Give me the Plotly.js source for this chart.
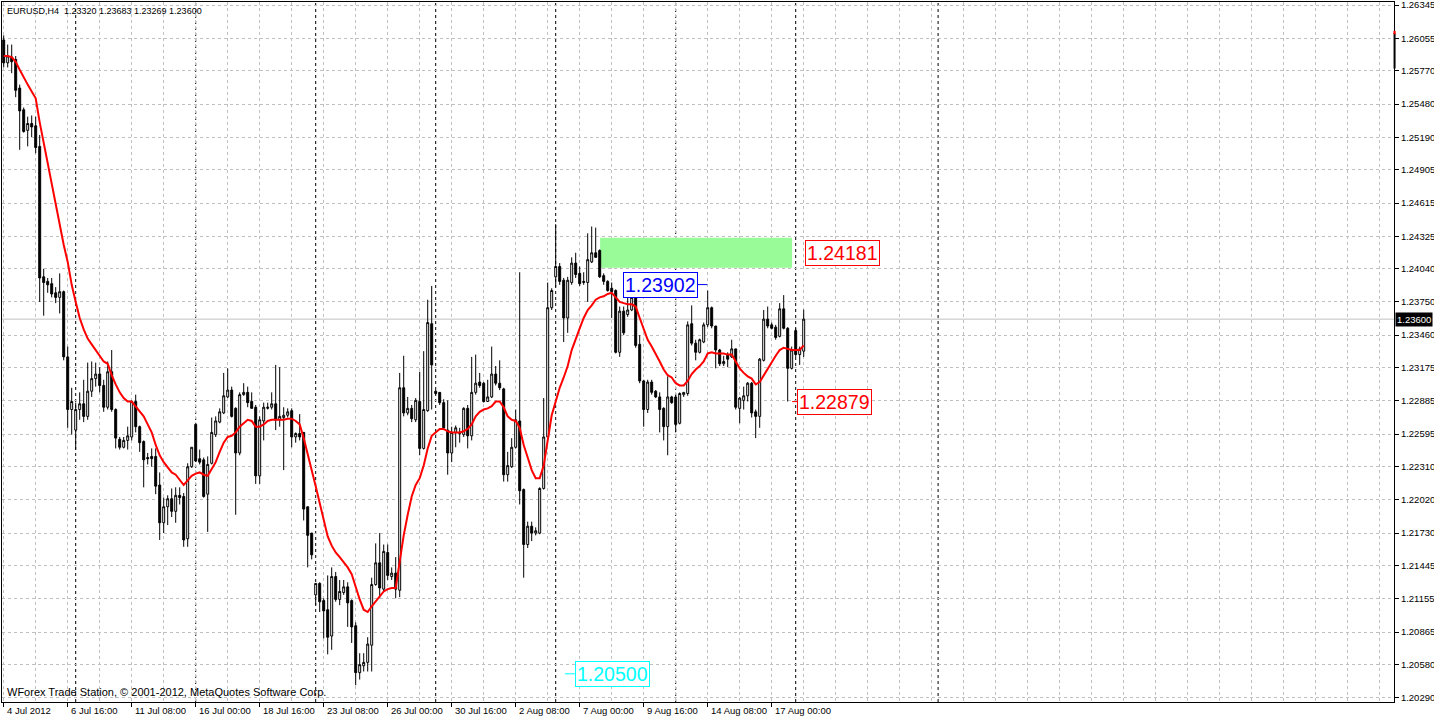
<!DOCTYPE html>
<html><head><meta charset="utf-8">
<script src="https://cdn.plot.ly/plotly-3.0.1.min.js"></script>
<style>html,body{margin:0;padding:0;background:#fff;overflow:hidden}#chart{width:1434px;height:718px}</style>
</head><body><div id="chart"></div>
<script>
// EURUSD H4 bars, 4 Jul 2012 00:00 .. 20 Aug 2012 08:00 (bar index = position)
const openP = [
1.2604,1.2584,1.2589,1.2587,1.2562,1.2543,1.2525,1.2531,1.2529,1.2511,
1.2397,1.2393,1.2391,1.2383,1.2379,1.2384,1.2327,1.2281,1.2263,1.2281,
1.2286,1.2275,1.2297,1.2308,1.2312,1.2302,1.2283,1.2314,1.2281,1.2255,
1.2248,1.2254,1.2257,1.2288,1.2266,1.2253,1.2239,1.2240,1.2240,1.2215,
1.2182,1.2196,1.2203,1.2192,1.2206,1.2205,1.2168,1.2231,1.2268,1.2238,
1.2237,1.2207,1.2234,1.2259,1.2270,1.2278,1.2292,1.2298,1.2282,1.2243,
1.2294,1.2296,1.2288,1.2283,1.2223,1.2271,1.2282,1.2283,1.2286,1.2272,
1.2274,1.2276,1.2280,1.2257,1.2260,1.2261,1.2196,1.2173,1.2119,1.2129,
1.2114,1.2106,1.2083,1.2135,1.2115,1.2121,1.2126,1.2114,1.2092,1.2051,
1.2057,1.2060,1.2075,1.2128,1.2147,1.2124,1.2156,1.2135,1.2138,1.2123,
1.2300,1.2278,1.2282,1.2272,1.2288,1.2247,1.2280,1.2356,1.2297,1.2296,
1.2287,1.2263,1.2243,1.2261,1.2260,1.2259,1.2282,1.2258,1.2296,1.2305,
1.2304,1.2288,1.2292,1.2312,1.2304,1.2299,1.2224,1.2231,1.2248,1.2271,
1.2211,1.2163,1.2179,1.2173,1.2173,1.2212,1.2257,1.2370,1.2397,1.2406,
1.2394,1.2361,1.2392,1.2409,1.2400,1.2392,1.2392,1.2410,1.2418,1.2420,
1.2398,1.2393,1.2387,1.2385,1.2331,1.2367,1.2364,1.2368,1.2379,1.2338,
1.2306,1.2281,1.2305,1.2297,1.2292,1.2282,1.2266,1.2292,1.2292,1.2269,
1.2294,1.2295,1.2356,1.2339,1.2331,1.2340,1.2355,1.2370,1.2354,1.2333,
1.2321,1.2329,1.2327,1.2334,1.2282,1.2289,1.2293,1.2304,1.2279,1.2275,
1.2324,1.2360,1.2355,1.2353,1.2345,1.2369,1.2352,1.2317,1.2350,1.2329,
1.23320];
const highP = [
1.2608,1.2600,1.2600,1.2590,1.2565,1.2545,1.2537,1.2538,1.2537,1.2521,
1.2404,1.2396,1.2396,1.2388,1.2400,1.2385,1.2336,1.2300,1.2287,1.2296,
1.2307,1.2322,1.2323,1.2322,1.2318,1.2307,1.2323,1.2333,1.2282,1.2257,
1.2257,1.2266,1.2289,1.2294,1.2267,1.2254,1.2243,1.2247,1.2247,1.2226,
1.2204,1.2206,1.2212,1.2213,1.2213,1.2208,1.2234,1.2248,1.2269,1.2246,
1.2239,1.2240,1.2274,1.2275,1.2282,1.2313,1.2317,1.2301,1.2283,1.2296,
1.2304,1.2301,1.2296,1.2285,1.2275,1.2287,1.2287,1.2296,1.2320,1.2318,
1.2283,1.2282,1.2282,1.2261,1.2277,1.2261,1.2196,1.2173,1.2129,1.2130,
1.2116,1.2136,1.2143,1.2139,1.2132,1.2132,1.2130,1.2115,1.2095,1.2068,
1.2068,1.2082,1.2134,1.2164,1.2173,1.2163,1.2163,1.2143,1.2152,1.2313,
1.2328,1.2292,1.2285,1.2291,1.2314,1.2332,1.2377,1.2389,1.2298,1.2296,
1.2290,1.2289,1.2266,1.2267,1.2265,1.2283,1.2285,1.2327,1.2329,1.2313,
1.2305,1.2307,1.2336,1.2319,1.2324,1.2300,1.2244,1.2256,1.2281,1.2401,
1.2212,1.2183,1.2183,1.2178,1.2213,1.2291,1.2392,1.2387,1.2443,1.2409,
1.2396,1.2397,1.2414,1.2418,1.2406,1.2401,1.2435,1.2441,1.2440,1.2421,
1.2400,1.2394,1.2392,1.2386,1.2371,1.2371,1.2384,1.2386,1.2381,1.2346,
1.2307,1.2307,1.2307,1.2298,1.2296,1.2283,1.2310,1.2293,1.2294,1.2296,
1.2296,1.2358,1.2372,1.2342,1.2343,1.2357,1.2385,1.2371,1.2354,1.2334,
1.2328,1.2331,1.2342,1.2334,1.2292,1.2301,1.2305,1.2305,1.2281,1.2326,
1.2368,1.2371,1.2357,1.2355,1.2374,1.2381,1.2353,1.2336,1.2352,1.2336,
1.23683];
const lowP = [
1.2580,1.2580,1.2575,1.2554,1.2508,1.2523,1.2511,1.2519,1.2505,1.2375,
1.2363,1.2383,1.2379,1.2374,1.2365,1.2324,1.2265,1.2259,1.2246,1.2272,
1.2270,1.2272,1.2292,1.2301,1.2296,1.2279,1.2281,1.2279,1.2247,1.2246,
1.2247,1.2246,1.2254,1.2261,1.2244,1.2213,1.2233,1.2231,1.2207,1.2167,
1.2173,1.2180,1.2187,1.2182,1.2198,1.2161,1.2161,1.2230,1.2235,1.2233,
1.2204,1.2174,1.2233,1.2257,1.2269,1.2277,1.2291,1.2274,1.2189,1.2241,
1.2293,1.2283,1.2282,1.2216,1.2216,1.2254,1.2281,1.2281,1.2263,1.2266,
1.2228,1.2274,1.2248,1.2252,1.2254,1.2184,1.2143,1.2150,1.2110,1.2104,
1.2081,1.2067,1.2071,1.2113,1.2110,1.2119,1.2091,1.2077,1.2040,1.2045,
1.2052,1.2052,1.2052,1.2127,1.2116,1.2122,1.2132,1.2132,1.2116,1.2117,
1.2275,1.2276,1.2270,1.2270,1.2241,1.2246,1.2279,1.2281,1.2294,1.2285,
1.2263,1.2224,1.2235,1.2248,1.2252,1.2257,1.2247,1.2254,1.2294,1.2300,
1.2287,1.2288,1.2291,1.2302,1.2298,1.2218,1.2218,1.2230,1.2247,1.2198,
1.2134,1.2160,1.2166,1.2171,1.2172,1.2211,1.2257,1.2368,1.2388,1.2390,
1.2340,1.2348,1.2390,1.2396,1.2389,1.2390,1.2375,1.2409,1.2414,1.2396,
1.2390,1.2384,1.2361,1.2330,1.2327,1.2346,1.2362,1.2367,1.2335,1.2304,
1.2266,1.2278,1.2294,1.2291,1.2261,1.2254,1.2241,1.2286,1.2261,1.2268,
1.2292,1.2293,1.2337,1.2324,1.2330,1.2339,1.2353,1.2352,1.2317,1.2319,
1.2319,1.2318,1.2326,1.2281,1.2269,1.2281,1.2288,1.2274,1.2256,1.2265,
1.2323,1.2352,1.2351,1.2342,1.2344,1.2351,1.2288,1.2316,1.2327,1.2320,
1.23269];
const closeP = [
1.2584,1.2590,1.2585,1.2560,1.2542,1.2524,1.2531,1.2528,1.2510,1.2396,
1.2392,1.2390,1.2382,1.2379,1.2384,1.2327,1.2281,1.2288,1.2281,1.2286,
1.2275,1.2297,1.2308,1.2312,1.2302,1.2283,1.2314,1.2281,1.2256,1.2248,
1.2254,1.2258,1.2288,1.2266,1.2252,1.2237,1.2238,1.2238,1.2214,1.2182,
1.2196,1.2203,1.2192,1.2206,1.2204,1.2167,1.2231,1.2248,1.2236,1.2235,
1.2205,1.2233,1.2261,1.2271,1.2279,1.2293,1.2298,1.2275,1.2243,1.2294,
1.2296,1.2287,1.2282,1.2223,1.2272,1.2283,1.2283,1.2286,1.2272,1.2275,
1.2276,1.2279,1.2257,1.2260,1.2257,1.2194,1.2171,1.2154,1.2129,1.2113,
1.2105,1.2082,1.2135,1.2115,1.2122,1.2126,1.2112,1.2091,1.2051,1.2058,
1.2060,1.2076,1.2128,1.2147,1.2125,1.2157,1.2136,1.2138,1.2124,1.2300,
1.2278,1.2282,1.2273,1.2289,1.2247,1.2281,1.2357,1.2320,1.2295,1.2287,
1.2265,1.2243,1.2261,1.2265,1.2261,1.2282,1.2258,1.2296,1.2304,1.2302,
1.2288,1.2292,1.2312,1.2304,1.2300,1.2224,1.2232,1.2248,1.2272,1.2210,
1.2163,1.2179,1.2173,1.2175,1.2212,1.2257,1.2370,1.2385,1.2406,1.2393,
1.2361,1.2394,1.2409,1.2399,1.2391,1.2393,1.2412,1.2418,1.2414,1.2397,
1.2393,1.2385,1.2384,1.2331,1.2367,1.2348,1.2368,1.2379,1.2337,1.2306,
1.2281,1.2305,1.2296,1.2292,1.2281,1.2266,1.2292,1.2287,1.2268,1.2295,
1.2296,1.2355,1.2339,1.2331,1.2342,1.2355,1.2370,1.2354,1.2333,1.2321,
1.2323,1.2325,1.2334,1.2283,1.2291,1.2293,1.2304,1.2278,1.2275,1.2325,
1.2360,1.2354,1.2352,1.2344,1.2369,1.2352,1.2317,1.2333,1.2329,1.2334,
1.23600];
// red moving average, one value per bar
const maP = [
1.2590,1.2590,1.2589,1.2585,1.2578,1.2571,1.2565,1.2559,1.2553,1.2532,
1.2514,1.2497,1.2477,1.2461,1.2443,1.2425,1.2410,1.2390,1.2375,1.2361,
1.2351,1.2343,1.2338,1.2333,1.2327,1.2323,1.2321,1.2311,1.2303,1.2296,
1.2291,1.2288,1.2288,1.2284,1.2280,1.2275,1.2268,1.2261,1.2250,1.2241,
1.2235,1.2230,1.2226,1.2224,1.2219,1.2215,1.2219,1.2223,1.2225,1.2226,
1.2224,1.2223,1.2229,1.2235,1.2244,1.2252,1.2257,1.2258,1.2261,1.2266,
1.2269,1.2272,1.2271,1.2266,1.2266,1.2268,1.2271,1.2272,1.2272,1.2272,
1.2272,1.2273,1.2273,1.2271,1.2268,1.2256,1.2241,1.2228,1.2214,1.2199,
1.2183,1.2170,1.2162,1.2156,1.2152,1.2148,1.2143,1.2137,1.2125,1.2115,
1.2106,1.2104,1.2109,1.2113,1.2117,1.2122,1.2124,1.2125,1.2125,1.2150,
1.2171,1.2189,1.2205,1.2215,1.2221,1.2232,1.2247,1.2258,1.2261,1.2264,
1.2264,1.2262,1.2261,1.2261,1.2261,1.2262,1.2264,1.2268,1.2275,1.2279,
1.2281,1.2282,1.2284,1.2288,1.2288,1.2283,1.2275,1.2272,1.2271,1.2265,
1.2250,1.2239,1.2228,1.2221,1.2221,1.2232,1.2254,1.2276,1.2288,1.2300,
1.2309,1.2319,1.2333,1.2343,1.2352,1.2361,1.2368,1.2372,1.2377,1.2379,
1.2380,1.2382,1.2383,1.2379,1.2375,1.2374,1.2373,1.2373,1.2371,1.2361,
1.2351,1.2342,1.2336,1.2330,1.2323,1.2316,1.2311,1.2309,1.2304,1.2302,
1.2302,1.2306,1.2312,1.2316,1.2319,1.2323,1.2330,1.2331,1.2330,1.2330,
1.2330,1.2329,1.2329,1.2323,1.2317,1.2313,1.2310,1.2308,1.2303,1.2305,
1.2311,1.2317,1.2323,1.2328,1.2333,1.2335,1.2334,1.2333,1.2333,1.2333,
1.2337];
const xTickBars = [0,16,32,48,64,80,96,112,128,144,160,176,192];
const xTickLabels = ['4 Jul 2012','6 Jul 16:00','11 Jul 08:00','16 Jul 00:00','18 Jul 16:00','23 Jul 08:00','26 Jul 00:00','30 Jul 16:00','2 Aug 08:00','7 Aug 00:00','9 Aug 16:00','14 Aug 08:00','17 Aug 00:00'];
const yTickVals = [1.26345,1.26055,1.25770,1.25480,1.25190,1.24905,1.24615,1.24325,1.24040,1.23750,1.23460,1.23175,1.22885,1.22595,1.22310,1.22020,1.21730,1.21445,1.21155,1.20865,1.20580,1.20290];
const separatorBars = [18,48,78,108,138,168,198,233.6];
const zoneCenter = 1.24181, zoneHalf = 0.00131;
const levelBlue = 1.23902, levelRed = 1.22879, levelCyan = 1.20500, bidPrice = 1.23600;

const F = 'Liberation Sans, Arial, sans-serif';
const traces = [
  {type:'candlestick', open:openP, high:highP, low:lowP, close:closeP,
   increasing:{line:{color:'#000',width:1}, fillcolor:'#ffffff'},
   decreasing:{line:{color:'#000',width:1}, fillcolor:'#000000'},
   whiskerwidth:0, hoverinfo:'skip', showlegend:false},
  {type:'scatter', mode:'lines', y:maP, line:{color:'#ff0000', width:2}, hoverinfo:'skip', showlegend:false}
];
const shapes = [];
separatorBars.forEach(b => shapes.push({type:'line', xref:'x', yref:'paper', x0:b, x1:b, y0:0, y1:1, layer:'between', line:{color:'#000', width:1, dash:'3px,3px'}}));
shapes.push({type:'line', xref:'paper', yref:'y', x0:0, x1:1, y0:bidPrice, y1:bidPrice, layer:'between', line:{color:'#c0c0c0', width:1}});
shapes.push({type:'rect', xref:'x', yref:'y', x0:149.1, x1:197.1, y0:zoneCenter-zoneHalf, y1:zoneCenter+zoneHalf, layer:'between', fillcolor:'#98fb98', line:{width:0}});
shapes.push({type:'line', xref:'x', yref:'y', x0:173.4, x1:175.9, y0:levelBlue, y1:levelBlue, line:{color:'#0000ff', width:1}});
shapes.push({type:'line', xref:'x', yref:'y', x0:197.1, x1:198.4, y0:levelRed, y1:levelRed, line:{color:'#ff0000', width:1}});
shapes.push({type:'line', xref:'x', yref:'y', x0:140.3, x1:142.8, y0:levelCyan, y1:levelCyan, line:{color:'#00ffff', width:1}});
shapes.push({type:'line', xref:'paper', yref:'y', x0:1.0004, x1:1.0004, y0:1.2579, y1:1.2610, line:{color:'#000', width:2}});
shapes.push({type:'rect', xref:'paper', yref:'y', x0:0.9996, x1:1.0012, y0:1.2609, y1:1.2612, fillcolor:'#ff0000', line:{width:0}});

function priceLabel(x, y, txt, col){
  return {xref:'x', yref:'y', x:x, y:y, xanchor:'left', yanchor:'middle', text:txt, showarrow:false,
    font:{family:F, size:19.5, color:col}, bgcolor:'#ffffff', bordercolor:col, borderwidth:1, borderpad:1};
}
const annotations = [
  {xref:'paper', yref:'paper', x:0, y:1, xanchor:'left', yanchor:'top', xshift:3, yshift:-2, showarrow:false,
   text:'EURUSD,H4\u00a0 1.23320 1.23683 1.23269 1.23600', font:{family:F, size:9, color:'#000'}},
  {xref:'paper', yref:'paper', x:0, y:0, xanchor:'left', yanchor:'bottom', xshift:3, yshift:2, showarrow:false,
   text:'WForex Trade Station, \u00a9 2001-2012, MetaQuotes Software Corp.', font:{family:F, size:11, color:'#000'}},
  priceLabel(200.2, zoneCenter, zoneCenter.toFixed(5), '#ff0000'),
  priceLabel(154.8, levelBlue, levelBlue.toFixed(5), '#0000ff'),
  priceLabel(198.4, levelRed, levelRed.toFixed(5), '#ff0000'),
  priceLabel(142.8, levelCyan, levelCyan.toFixed(5), '#00ffff'),
  {xref:'paper', yref:'y', x:1, y:bidPrice, xanchor:'left', yanchor:'middle', xshift:1, showarrow:false,
   text:bidPrice.toFixed(5), font:{family:F, size:9.5, color:'#ffffff'}, bgcolor:'#000000', borderpad:1}
];
xTickBars.forEach((b, k) => annotations.push({xref:'x', yref:'paper', x:b, y:0, xanchor:'left', yanchor:'top',
  xshift:1, yshift:-1, showarrow:false, text:xTickLabels[k], font:{family:F, size:9.5, color:'#000'}}));

const layout = {
  width:1434, height:718, margin:{l:2, r:40, t:2, b:16, pad:0},
  paper_bgcolor:'#ffffff', plot_bgcolor:'#ffffff', showlegend:false,
  font:{family:F, size:9.5, color:'#000'},
  xaxis:{range:[-0.425, 347.575], tickmode:'array', tickvals:xTickBars, showticklabels:false,
    ticks:'outside', ticklen:4, tickcolor:'#000',
    showgrid:true, gridcolor:'#c0c0c0', griddash:'dot', gridwidth:1,
    minor:{tickmode:'linear', tick0:0, dtick:8, showgrid:true, gridcolor:'#c0c0c0', griddash:'dot', ticks:''},
    showline:true, mirror:true, linecolor:'#000', linewidth:1, zeroline:false,
    rangeslider:{visible:false}, fixedrange:true},
  yaxis:{side:'right', range:[1.202535, 1.26372], tickmode:'array', tickvals:yTickVals,
    ticktext:yTickVals.map(v => v.toFixed(5)), ticks:'outside', ticklen:4, tickcolor:'#000',
    ticklabeloverflow:'allow',
    showgrid:true, gridcolor:'#c0c0c0', griddash:'dot', gridwidth:1,
    showline:true, mirror:true, linecolor:'#000', linewidth:1, zeroline:false,
    tickfont:{family:F, size:9.5, color:'#000'}, fixedrange:true},
  shapes:shapes, annotations:annotations
};
Plotly.newPlot('chart', traces, layout, {staticPlot:true, displayModeBar:false});
</script>
</body></html>
